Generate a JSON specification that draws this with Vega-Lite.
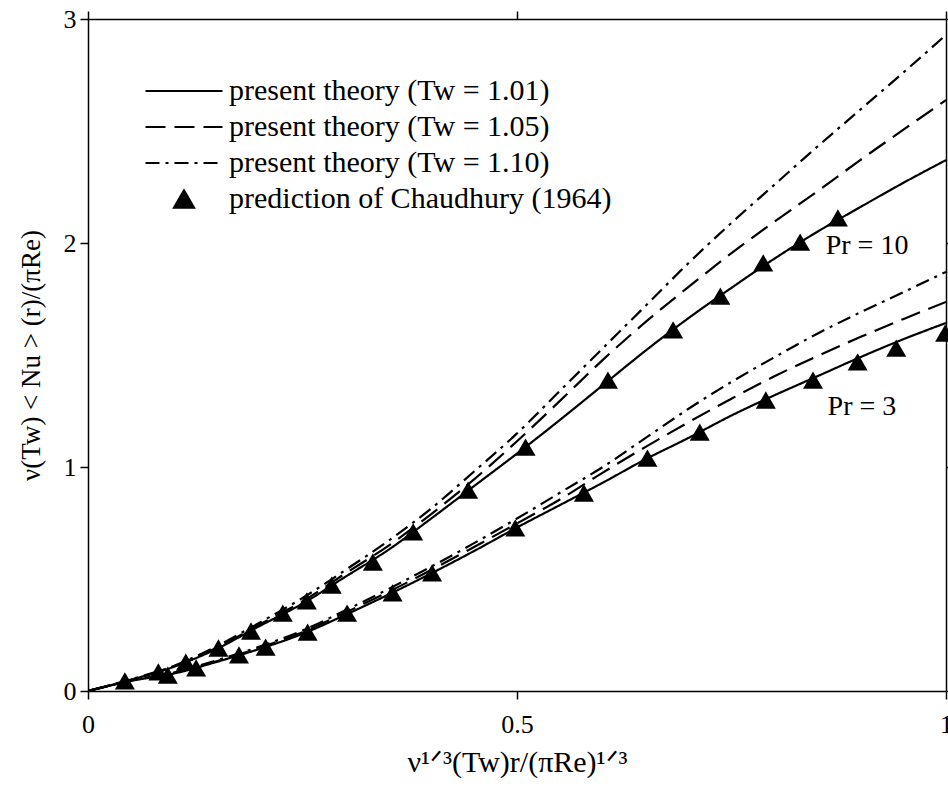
{
  "$schema": "https://vega.github.io/schema/vega-lite/v6.json",
  "width": 858,
  "height": 672,
  "autosize": {"type": "none"},
  "padding": {"left": 88, "top": 19, "right": 2, "bottom": 95},
  "background": "white",
  "config": {
    "view": {"stroke": null},
    "font": "Liberation Serif",
    "axis": {
      "domainColor": "black", "domainWidth": 1.5,
      "tickColor": "black", "tickWidth": 1.5, "tickSize": 8,
      "grid": false,
      "labelFont": "Liberation Serif", "labelFontSize": 26, "labelColor": "black",
      "titleFont": "Liberation Serif", "titleFontSize": 27, "titleFontWeight": "normal", "titleColor": "black"
    }
  },
  "datasets": {
    "curves": [
      {"x":0,"y":0,"curve":"p10a","tw":"1.01"},{"x":0.05,"y":0.05,"curve":"p10a","tw":"1.01"},{"x":0.1,"y":0.108,"curve":"p10a","tw":"1.01"},{"x":0.15,"y":0.188,"curve":"p10a","tw":"1.01"},{"x":0.2,"y":0.29,"curve":"p10a","tw":"1.01"},{"x":0.25,"y":0.39,"curve":"p10a","tw":"1.01"},{"x":0.3,"y":0.51,"curve":"p10a","tw":"1.01"},{"x":0.35,"y":0.63,"curve":"p10a","tw":"1.01"},{"x":0.4,"y":0.77,"curve":"p10a","tw":"1.01"},{"x":0.45,"y":0.915,"curve":"p10a","tw":"1.01"},{"x":0.5,"y":1.06,"curve":"p10a","tw":"1.01"},{"x":0.55,"y":1.21,"curve":"p10a","tw":"1.01"},{"x":0.6,"y":1.365,"curve":"p10a","tw":"1.01"},{"x":0.65,"y":1.52,"curve":"p10a","tw":"1.01"},{"x":0.7,"y":1.665,"curve":"p10a","tw":"1.01"},{"x":0.75,"y":1.8,"curve":"p10a","tw":"1.01"},{"x":0.8,"y":1.93,"curve":"p10a","tw":"1.01"},{"x":0.85,"y":2.05,"curve":"p10a","tw":"1.01"},{"x":0.9,"y":2.16,"curve":"p10a","tw":"1.01"},{"x":0.95,"y":2.268,"curve":"p10a","tw":"1.01"},{"x":1,"y":2.37,"curve":"p10a","tw":"1.01"},
      {"x":0,"y":0,"curve":"p10b","tw":"1.05"},{"x":0.05,"y":0.05,"curve":"p10b","tw":"1.05"},{"x":0.1,"y":0.11,"curve":"p10b","tw":"1.05"},{"x":0.15,"y":0.193,"curve":"p10b","tw":"1.05"},{"x":0.2,"y":0.297,"curve":"p10b","tw":"1.05"},{"x":0.25,"y":0.4,"curve":"p10b","tw":"1.05"},{"x":0.3,"y":0.525,"curve":"p10b","tw":"1.05"},{"x":0.35,"y":0.648,"curve":"p10b","tw":"1.05"},{"x":0.4,"y":0.79,"curve":"p10b","tw":"1.05"},{"x":0.45,"y":0.945,"curve":"p10b","tw":"1.05"},{"x":0.5,"y":1.115,"curve":"p10b","tw":"1.05"},{"x":0.55,"y":1.295,"curve":"p10b","tw":"1.05"},{"x":0.6,"y":1.478,"curve":"p10b","tw":"1.05"},{"x":0.65,"y":1.648,"curve":"p10b","tw":"1.05"},{"x":0.7,"y":1.804,"curve":"p10b","tw":"1.05"},{"x":0.75,"y":1.955,"curve":"p10b","tw":"1.05"},{"x":0.8,"y":2.095,"curve":"p10b","tw":"1.05"},{"x":0.85,"y":2.23,"curve":"p10b","tw":"1.05"},{"x":0.9,"y":2.37,"curve":"p10b","tw":"1.05"},{"x":0.95,"y":2.505,"curve":"p10b","tw":"1.05"},{"x":1,"y":2.638,"curve":"p10b","tw":"1.05"},
      {"x":0,"y":0,"curve":"p10c","tw":"1.10"},{"x":0.05,"y":0.052,"curve":"p10c","tw":"1.10"},{"x":0.1,"y":0.112,"curve":"p10c","tw":"1.10"},{"x":0.15,"y":0.2,"curve":"p10c","tw":"1.10"},{"x":0.2,"y":0.305,"curve":"p10c","tw":"1.10"},{"x":0.25,"y":0.415,"curve":"p10c","tw":"1.10"},{"x":0.3,"y":0.54,"curve":"p10c","tw":"1.10"},{"x":0.35,"y":0.67,"curve":"p10c","tw":"1.10"},{"x":0.4,"y":0.815,"curve":"p10c","tw":"1.10"},{"x":0.45,"y":0.98,"curve":"p10c","tw":"1.10"},{"x":0.5,"y":1.15,"curve":"p10c","tw":"1.10"},{"x":0.55,"y":1.34,"curve":"p10c","tw":"1.10"},{"x":0.6,"y":1.53,"curve":"p10c","tw":"1.10"},{"x":0.65,"y":1.72,"curve":"p10c","tw":"1.10"},{"x":0.7,"y":1.911,"curve":"p10c","tw":"1.10"},{"x":0.75,"y":2.09,"curve":"p10c","tw":"1.10"},{"x":0.8,"y":2.26,"curve":"p10c","tw":"1.10"},{"x":0.85,"y":2.43,"curve":"p10c","tw":"1.10"},{"x":0.9,"y":2.595,"curve":"p10c","tw":"1.10"},{"x":0.95,"y":2.76,"curve":"p10c","tw":"1.10"},{"x":1,"y":2.929,"curve":"p10c","tw":"1.10"},
      {"x":0,"y":0,"curve":"p3a","tw":"1.01"},{"x":0.05,"y":0.045,"curve":"p3a","tw":"1.01"},{"x":0.1,"y":0.078,"curve":"p3a","tw":"1.01"},{"x":0.15,"y":0.13,"curve":"p3a","tw":"1.01"},{"x":0.2,"y":0.188,"curve":"p3a","tw":"1.01"},{"x":0.25,"y":0.255,"curve":"p3a","tw":"1.01"},{"x":0.3,"y":0.34,"curve":"p3a","tw":"1.01"},{"x":0.35,"y":0.43,"curve":"p3a","tw":"1.01"},{"x":0.4,"y":0.525,"curve":"p3a","tw":"1.01"},{"x":0.45,"y":0.625,"curve":"p3a","tw":"1.01"},{"x":0.5,"y":0.73,"curve":"p3a","tw":"1.01"},{"x":0.55,"y":0.83,"curve":"p3a","tw":"1.01"},{"x":0.6,"y":0.93,"curve":"p3a","tw":"1.01"},{"x":0.65,"y":1.035,"curve":"p3a","tw":"1.01"},{"x":0.7,"y":1.13,"curve":"p3a","tw":"1.01"},{"x":0.75,"y":1.23,"curve":"p3a","tw":"1.01"},{"x":0.8,"y":1.32,"curve":"p3a","tw":"1.01"},{"x":0.85,"y":1.405,"curve":"p3a","tw":"1.01"},{"x":0.9,"y":1.49,"curve":"p3a","tw":"1.01"},{"x":0.95,"y":1.57,"curve":"p3a","tw":"1.01"},{"x":1,"y":1.643,"curve":"p3a","tw":"1.01"},
      {"x":0,"y":0,"curve":"p3b","tw":"1.05"},{"x":0.05,"y":0.046,"curve":"p3b","tw":"1.05"},{"x":0.1,"y":0.08,"curve":"p3b","tw":"1.05"},{"x":0.15,"y":0.133,"curve":"p3b","tw":"1.05"},{"x":0.2,"y":0.193,"curve":"p3b","tw":"1.05"},{"x":0.25,"y":0.262,"curve":"p3b","tw":"1.05"},{"x":0.3,"y":0.35,"curve":"p3b","tw":"1.05"},{"x":0.35,"y":0.442,"curve":"p3b","tw":"1.05"},{"x":0.4,"y":0.54,"curve":"p3b","tw":"1.05"},{"x":0.45,"y":0.643,"curve":"p3b","tw":"1.05"},{"x":0.5,"y":0.748,"curve":"p3b","tw":"1.05"},{"x":0.55,"y":0.855,"curve":"p3b","tw":"1.05"},{"x":0.6,"y":0.975,"curve":"p3b","tw":"1.05"},{"x":0.65,"y":1.09,"curve":"p3b","tw":"1.05"},{"x":0.7,"y":1.2,"curve":"p3b","tw":"1.05"},{"x":0.75,"y":1.305,"curve":"p3b","tw":"1.05"},{"x":0.8,"y":1.405,"curve":"p3b","tw":"1.05"},{"x":0.85,"y":1.495,"curve":"p3b","tw":"1.05"},{"x":0.9,"y":1.58,"curve":"p3b","tw":"1.05"},{"x":0.95,"y":1.66,"curve":"p3b","tw":"1.05"},{"x":1,"y":1.737,"curve":"p3b","tw":"1.05"},
      {"x":0,"y":0,"curve":"p3c","tw":"1.10"},{"x":0.05,"y":0.047,"curve":"p3c","tw":"1.10"},{"x":0.1,"y":0.082,"curve":"p3c","tw":"1.10"},{"x":0.15,"y":0.137,"curve":"p3c","tw":"1.10"},{"x":0.2,"y":0.198,"curve":"p3c","tw":"1.10"},{"x":0.25,"y":0.27,"curve":"p3c","tw":"1.10"},{"x":0.3,"y":0.36,"curve":"p3c","tw":"1.10"},{"x":0.35,"y":0.455,"curve":"p3c","tw":"1.10"},{"x":0.4,"y":0.555,"curve":"p3c","tw":"1.10"},{"x":0.45,"y":0.66,"curve":"p3c","tw":"1.10"},{"x":0.5,"y":0.77,"curve":"p3c","tw":"1.10"},{"x":0.55,"y":0.885,"curve":"p3c","tw":"1.10"},{"x":0.6,"y":1.0,"curve":"p3c","tw":"1.10"},{"x":0.65,"y":1.13,"curve":"p3c","tw":"1.10"},{"x":0.7,"y":1.26,"curve":"p3c","tw":"1.10"},{"x":0.75,"y":1.38,"curve":"p3c","tw":"1.10"},{"x":0.8,"y":1.49,"curve":"p3c","tw":"1.10"},{"x":0.85,"y":1.595,"curve":"p3c","tw":"1.10"},{"x":0.9,"y":1.69,"curve":"p3c","tw":"1.10"},{"x":0.95,"y":1.78,"curve":"p3c","tw":"1.10"},{"x":1,"y":1.871,"curve":"p3c","tw":"1.10"}
    ],
    "tri": [
      {"x":0.043,"y":0.045,"tw":"C"},{"x":0.082,"y":0.085,"tw":"C"},{"x":0.114,"y":0.129,"tw":"C"},{"x":0.152,"y":0.192,"tw":"C"},{"x":0.19,"y":0.268,"tw":"C"},{"x":0.227,"y":0.348,"tw":"C"},{"x":0.255,"y":0.402,"tw":"C"},{"x":0.284,"y":0.473,"tw":"C"},{"x":0.332,"y":0.576,"tw":"C"},{"x":0.379,"y":0.71,"tw":"C"},{"x":0.443,"y":0.897,"tw":"C"},{"x":0.51,"y":1.089,"tw":"C"},{"x":0.606,"y":1.388,"tw":"C"},{"x":0.682,"y":1.612,"tw":"C"},{"x":0.737,"y":1.763,"tw":"C"},{"x":0.787,"y":1.911,"tw":"C"},{"x":0.83,"y":2.004,"tw":"C"},{"x":0.874,"y":2.112,"tw":"C"},
      {"x":0.093,"y":0.071,"tw":"C"},{"x":0.126,"y":0.103,"tw":"C"},{"x":0.176,"y":0.161,"tw":"C"},{"x":0.207,"y":0.196,"tw":"C"},{"x":0.256,"y":0.263,"tw":"C"},{"x":0.302,"y":0.348,"tw":"C"},{"x":0.355,"y":0.438,"tw":"C"},{"x":0.401,"y":0.527,"tw":"C"},{"x":0.498,"y":0.728,"tw":"C"},{"x":0.578,"y":0.884,"tw":"C"},{"x":0.652,"y":1.04,"tw":"C"},{"x":0.713,"y":1.156,"tw":"C"},{"x":0.79,"y":1.299,"tw":"C"},{"x":0.845,"y":1.388,"tw":"C"},{"x":0.897,"y":1.469,"tw":"C"},{"x":0.942,"y":1.531,"tw":"C"},{"x":0.999,"y":1.598,"tw":"C"}
    ],
    "ann": [
      {"x":0.908,"y":1.987,"label":"Pr = 10"},
      {"x":0.902,"y":1.268,"label":"Pr = 3"}
    ]
  },
  "layer": [
    {
      "data": {"name": "curves"},
      "mark": {"type": "line", "strokeWidth": 2.2, "color": "black", "strokeCap": "butt", "interpolate": "monotone", "clip": true},
      "encoding": {
        "x": {"field": "x", "type": "quantitative", "scale": {"domain": [0, 1], "nice": false},
              "axis": {"orient": "bottom", "values": [0, 0.5, 1], "format": "~g", "labelPadding": 12, "labelFlush": false, "title": "ν¹ᐟ³(Tw)r/(πRe)¹ᐟ³", "titleFontSize": 30, "titlePadding": 10}},
        "y": {"field": "y", "type": "quantitative", "scale": {"domain": [0, 3], "nice": false},
              "axis": {"orient": "left", "values": [0, 1, 2, 3], "format": "~g", "labelPadding": 4, "labelFlush": false, "title": "ν(Tw) < Nu > (r)/(πRe)", "titlePadding": 18}},
        "strokeDash": {"field": "tw", "type": "nominal",
          "scale": {"domain": ["1.01", "1.05", "1.10", "C"], "range": [[1, 0], [20, 9], [14, 6, 3, 6], [1, 0]]},
          "legend": {"title": null, "orient": "none", "legendX": 81, "legendY": 57, "padding": 0, "symbolSize": 400, "symbolStrokeWidth": 2, "symbolStrokeColor": "black", "symbolFillColor": "black", "symbolOpacity": 1, "labelFont": "Liberation Serif", "labelFontSize": 30, "labelColor": "black", "labelOffset": 30, "labelLimit": 0, "rowPadding": 6,
            "labelExpr": "datum.label == 'C' ? 'prediction of Chaudhury (1964)' : 'present theory (Tw = ' + datum.label + ')'",
            "encode": {"symbols": {"update": {"stroke": {"value": "black"}, "strokeWidth": {"value": 2.2}, "fill": {"value": "black"}, "opacity": {"value": 1}}}}}},
        "detail": {"field": "curve", "type": "nominal"}
      }
    },
    {
      "data": {"name": "tri"},
      "mark": {"type": "point", "filled": true, "color": "black", "size": 400, "opacity": 1},
      "encoding": {
        "x": {"field": "x", "type": "quantitative", "scale": {"domain": [0, 1], "nice": false},
              "axis": {"orient": "top", "values": [0, 0.5, 1], "labels": false, "title": null}},
        "y": {"field": "y", "type": "quantitative", "scale": {"domain": [0, 3], "nice": false},
              "axis": {"orient": "right", "values": [0, 1, 2, 3], "labels": false, "title": null}},
        "shape": {"field": "tw", "type": "nominal",
          "scale": {"domain": ["1.01", "1.05", "1.10", "C"], "range": ["M-3.85,0H3.85", "M-3.85,0H3.85", "M-3.85,0H3.85", "triangle-up"]},
          "legend": {"title": null, "orient": "none", "legendX": 81, "legendY": 57, "padding": 0, "symbolSize": 400, "symbolStrokeWidth": 2, "symbolStrokeColor": "black", "symbolFillColor": "black", "symbolOpacity": 1, "labelFont": "Liberation Serif", "labelFontSize": 30, "labelColor": "black", "labelOffset": 30, "labelLimit": 0, "rowPadding": 6,
            "labelExpr": "datum.label == 'C' ? 'prediction of Chaudhury (1964)' : 'present theory (Tw = ' + datum.label + ')'",
            "encode": {"symbols": {"update": {"stroke": {"value": "black"}, "strokeWidth": {"value": 2.2}, "fill": {"value": "black"}, "opacity": {"value": 1}}}}}}
      }
    },
    {
      "data": {"name": "ann"},
      "mark": {"type": "text", "fontSize": 28, "font": "Liberation Serif", "color": "black"},
      "encoding": {
        "x": {"field": "x", "type": "quantitative", "axis": null},
        "y": {"field": "y", "type": "quantitative", "axis": null},
        "text": {"field": "label", "type": "nominal"}
      }
    }
  ],
  "resolve": {"axis": {"x": "independent", "y": "independent"}}
}
